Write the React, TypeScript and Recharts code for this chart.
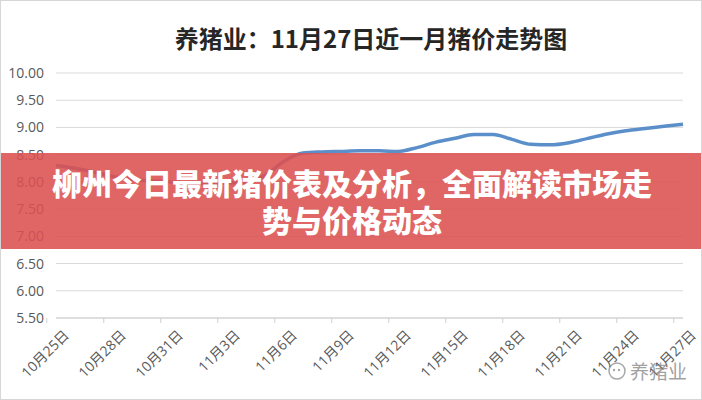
import React from 'react';
import { LineChart, Line, XAxis, YAxis, CartesianGrid } from 'recharts';

document.body.style.margin = '0';

const dates = [
  '10月25日', '10月26日', '10月27日', '10月28日', '10月29日', '10月30日', '10月31日',
  '11月1日', '11月2日', '11月3日', '11月4日', '11月5日', '11月6日', '11月7日',
  '11月8日', '11月9日', '11月10日', '11月11日', '11月12日', '11月13日', '11月14日',
  '11月15日', '11月16日', '11月17日', '11月18日', '11月19日', '11月20日', '11月21日',
  '11月22日', '11月23日', '11月24日', '11月25日', '11月26日', '11月27日',
];

const prices = [
  8.3, 8.25, 8.18, 8.1, 8.05, 8.02, 8.0,
  7.98, 7.97, 7.98, 8.0, 8.12, 8.38, 8.53,
  8.55, 8.56, 8.57, 8.57, 8.56, 8.63, 8.73,
  8.8, 8.87, 8.87, 8.78, 8.69, 8.68, 8.72,
  8.8, 8.88, 8.94, 8.98, 9.02, 9.06,
];

const yTicks = [5.5, 6, 6.5, 7, 7.5, 8, 8.5, 9, 9.5, 10];

const title = '养猪业：11月27日近一月猪价走势图';
const bannerLines = ['柳州今日最新猪价表及分析，全面解读市场走', '势与价格动态'];
const watermark = '养猪业';

const data = dates.map((d, i) => ({ date: d, price: prices[i] }));

const W = 702;
const H = 400;
const LEFT = 56;
const RIGHT = 19;
const band = (W - LEFT - RIGHT) / dates.length;
const font = '"Open Sans", "Noto Sans CJK SC", sans-serif';

function DateTick(props: any) {
  const { x, y, payload } = props;
  const ax = x + 14;
  const ay = y + 18;
  return (
    <g>
      <line x1={x - band / 2} y1={y} x2={x - band / 2} y2={y + 5} stroke="#d0d0d0" />
      <text
        x={ax}
        y={ay}
        textAnchor="end"
        fontSize={14}
        fill="#595959"
        fontFamily={font}
        transform={`rotate(-45 ${ax} ${ay})`}
      >
        {payload.value}
      </text>
    </g>
  );
}

export default function App() {
  return (
    <div
      style={{
        position: 'relative',
        width: W,
        height: H,
        background: '#fff',
        boxSizing: 'border-box',
        border: '1px solid #d6d6d6',
        overflow: 'hidden',
      }}
    >
      <div
        style={{
          position: 'absolute',
          top: 19,
          left: 0,
          width: W,
          textAlign: 'center',
          paddingLeft: 38,
          boxSizing: 'border-box',
          fontFamily: '"Noto Sans CJK SC", sans-serif',
          fontWeight: 700,
          fontSize: 24,
          color: '#262626',
          whiteSpace: 'nowrap',
        }}
      >
        {title}
      </div>
      <div style={{ position: 'absolute', top: -1, left: -1 }}>
        <LineChart width={W} height={H} data={data} margin={{ top: 73, right: RIGHT, bottom: 0, left: 6 }}>
          <CartesianGrid vertical={false} stroke="#d9d9d9" />
          <XAxis
            dataKey="date"
            interval={2}
            height={82}
            axisLine={{ stroke: '#d0d0d0' }}
            tickLine={false}
            tickSize={0}
            tickMargin={0}
            tick={<DateTick />}
          />
          <YAxis
            domain={[5.5, 10]}
            ticks={yTicks}
            width={50}
            axisLine={false}
            tickLine={false}
            tickMargin={6}
            tickFormatter={(v: number) => v.toFixed(2)}
            tick={{ fontSize: 14, fill: '#595959', fontFamily: font }}
          />
          <Line
            type="monotone"
            dataKey="price"
            stroke="#5b8fca"
            strokeWidth={3.5}
            dot={false}
            isAnimationActive={false}
          />
        </LineChart>
      </div>
      <div
        style={{
          position: 'absolute',
          top: 152,
          left: 0,
          width: W,
          height: 96,
          background: 'rgba(220, 80, 80, 0.88)',
          display: 'flex',
          flexDirection: 'column',
          alignItems: 'center',
          justifyContent: 'center',
          fontFamily: '"Noto Sans CJK SC", sans-serif',
          fontWeight: 900,
          fontSize: 30,
          lineHeight: '37px',
          color: '#fff',
        }}
      >
        {bannerLines.map((t) => (
          <div key={t}>{t}</div>
        ))}
      </div>
      <div
        style={{
          position: 'absolute',
          top: 356,
          left: 606,
          display: 'flex',
          alignItems: 'center',
          gap: 3,
          color: 'rgba(130,130,130,0.75)',
          fontFamily: '"Noto Sans CJK SC", sans-serif',
          fontSize: 19,
        }}
      >
        <svg width={20} height={20}>
          <circle cx={10} cy={10} r={8} fill="none" stroke="rgba(130,130,130,0.7)" strokeWidth={1.5} />
          <circle cx={7} cy={9} r={1.2} fill="rgba(130,130,130,0.7)" />
          <circle cx={12} cy={9} r={1.2} fill="rgba(130,130,130,0.7)" />
        </svg>
        <span>{watermark}</span>
      </div>
    </div>
  );
}
